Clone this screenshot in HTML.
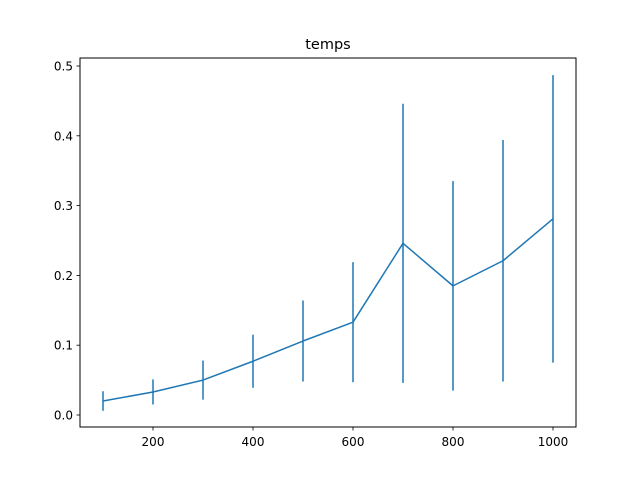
<!DOCTYPE html>
<html><head><meta charset="utf-8"><style>
html,body{margin:0;padding:0;background:#fff;}
svg text{font-family:"DejaVu Sans","Liberation Sans",sans-serif;}
</style></head><body>
<svg id="chart" width="640" height="480" xmlns="http://www.w3.org/2000/svg">
<rect width="640" height="480" fill="#fff"/>
<text x="328" y="49" font-size="14.5" text-anchor="middle">temps</text>
<g id="marks"></g>
<g id="axes"></g>
<rect x="80" y="58" width="496" height="369" fill="none" stroke="#000" stroke-width="1"/>
</svg>
<script>
const xValues = [100,200,300,400,500,600,700,800,900,1000];
const means = [0.020,0.033,0.050,0.077,0.106,0.133,0.246,0.185,0.221,0.281];
const errors = [0.014,0.018,0.028,0.038,0.058,0.086,0.200,0.150,0.173,0.206];
const xTicks = [200,400,600,800,1000];
const yTicks = [0.0,0.1,0.2,0.3,0.4,0.5];
const yTickLabels = ["0.0","0.1","0.2","0.3","0.4","0.5"];

const NS="http://www.w3.org/2000/svg";
function xs(v){return 153+(v-200)*0.5;}
function ys(v){return 415-v*698;}
function mk(tag,attrs,parent){const e=document.createElementNS(NS,tag);for(const k in attrs)e.setAttribute(k,attrs[k]);parent.appendChild(e);return e;}
const marks=document.getElementById('marks'), axes=document.getElementById('axes');
const c="#1f77b4";
xValues.forEach((x,i)=>{
  const l=mk('line',{x1:xs(x),x2:xs(x),y1:ys(means[i]-errors[i]),y2:ys(means[i]+errors[i]),stroke:c,'stroke-width':1.5},marks);
  
  
});
const p=mk('polyline',{points:xValues.map((x,i)=>xs(x)+','+ys(means[i])).join(' '),fill:'none',stroke:c,'stroke-width':1.5,'stroke-linejoin':'round'},marks);


xTicks.forEach(t=>{
  const g=mk('g',{},axes);
  
  
  mk('line',{x1:xs(t),x2:xs(t),y1:427,y2:430.5,stroke:'#000','stroke-width':0.8},g);
  const tx=mk('text',{x:xs(t),y:446,'font-size':12,'text-anchor':'middle'},g);tx.textContent=t;
});
yTicks.forEach((t,i)=>{
  const g=mk('g',{},axes);
  
  
  mk('line',{x1:76.5,x2:80,y1:ys(t),y2:ys(t),stroke:'#000','stroke-width':0.8},g);
  const tx=mk('text',{x:73,y:ys(t)+4.5,'font-size':12,'text-anchor':'end'},g);tx.textContent=yTickLabels[i];
});
</script>
</body></html>
